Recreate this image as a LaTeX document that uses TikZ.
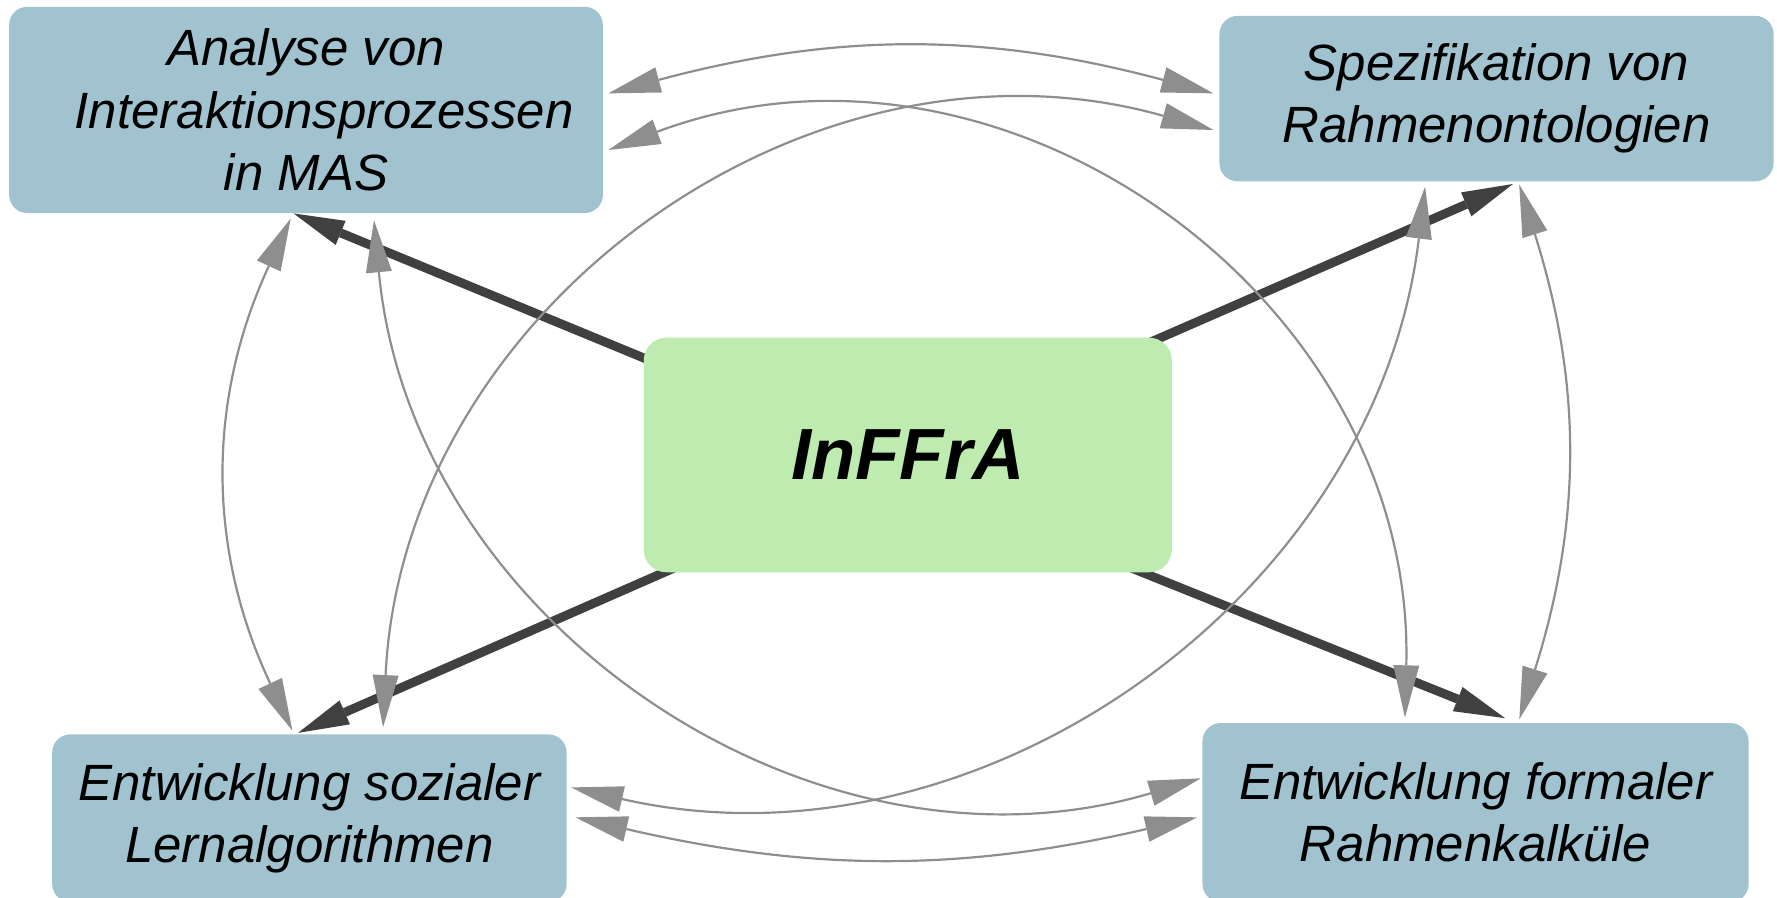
\documentclass[tikz,border=0pt]{standalone}
\usepackage{fontspec}
\setmainfont{Liberation Sans}
\usepackage{tikz}
\usetikzlibrary{arrows.meta, calc, backgrounds}
\definecolor{infrablue}{HTML}{A0C3CF}
\definecolor{infragreen}{HTML}{BEEBB0}
\definecolor{infradark}{HTML}{404040}
\definecolor{infragray}{HTML}{8E8E8E}

\begin{document}
\begin{tikzpicture}[x=0.02cm, y=0.02cm,
  topic/.style={fill=infrablue, rounded corners=0.32cm, inner sep=0pt, align=center,
    font=\fontsize{25.6}{31.3}\selectfont\itshape},
  hub/.style={fill=infragreen, rounded corners=0.4cm, inner sep=0pt,
    font=\fontsize{36.4}{40}\selectfont\bfseries\itshape},
  feed/.style={-{Triangle[length=0.9cm, width=0.46cm, line width=0pt]}, line width=4.5pt, color=infradark},
  mutual/.style={{Triangle[length=0.92cm, width=0.46cm, line width=0pt]}-{Triangle[length=0.92cm, width=0.46cm, line width=0pt]},
    line width=1.1pt, color=infragray}]
  \useasboundingbox (0,0) rectangle (1568,792);

  % topics
  \node[topic, minimum width=10.48cm, minimum height=3.64cm] (ana) at (270,695) {Analyse von\\\hspace*{0.64cm}Interaktionsprozessen\\in MAS};
  \node[topic, minimum width=9.78cm, minimum height=2.92cm] (spec) at (1320.5,705) {Spezifikation von\\Rahmenontologien};
  \node[topic, minimum width=9.08cm, minimum height=2.96cm] (lern) at (273,70) {Entwicklung sozialer\\Lernalgorithmen};
  \node[topic, minimum width=9.64cm, minimum height=3.16cm] (kalk) at (1302,75) {Entwicklung formaler\\Rahmenkalküle};
  \node[hub, minimum width=9.32cm, minimum height=4.14cm] (hub) at (801,390.5) {InFFrA};

  % from the framework to the topics
  \begin{scope}[on background layer]
    \draw[feed] ($(hub.north west)+(11,-22.6)$) -- ($(ana.south)+(-11,0)$);
    \draw[feed] ($(hub.north east)+(-25,-6.8)$) -- ($(spec.south)+(14.5,-2)$);
    \draw[feed] ($(hub.south west)+(31,5.8)$) -- ($(lern.north)+(-10,1)$);
    \draw[feed] ($(hub.south east)+(-37,4.5)$) -- ($(kalk.north)+(26,4)$);
  \end{scope}

  % between the topics
  \draw[mutual] ($(ana.east)+(4.5,14.6)$) to[bend left=15] ($(spec.west)+(-5,4.6)$);
  \draw[mutual] ($(lern.east)+(7.5,0.8)$) to[bend right=13] ($(kalk.west)+(-4.3,-4.2)$);
  \draw[mutual] ($(ana.south)+(-13.5,-4.6)$) to[bend right=25] ($(lern.north)+(-15,3)$);
  \draw[mutual] ($(spec.south)+(20,-2.5)$) to[bend left=17.5] ($(kalk.north)+(38.6,3)$);
  \draw[mutual] ($(ana.east)+(4.5,-35.4)$) to[bend left=56, looseness=1.1] ($(kalk.north)+(-62.3,4.6)$);
  \draw[mutual] ($(spec.west)+(-5,-27.7)$) to[bend right=51.5, looseness=1.05] ($(lern.north)+(65,6)$);
  \draw[mutual] ($(ana.south)+(60,-6)$) to[bend right=50.6, looseness=1.04] ($(kalk.west)+(-1.2,30.2)$);
  \draw[mutual] ($(spec.south)+(-63,-4.4)$) to[bend left=48, looseness=1.02] ($(lern.east)+(3.7,27.2)$);
\end{tikzpicture}
\end{document}
